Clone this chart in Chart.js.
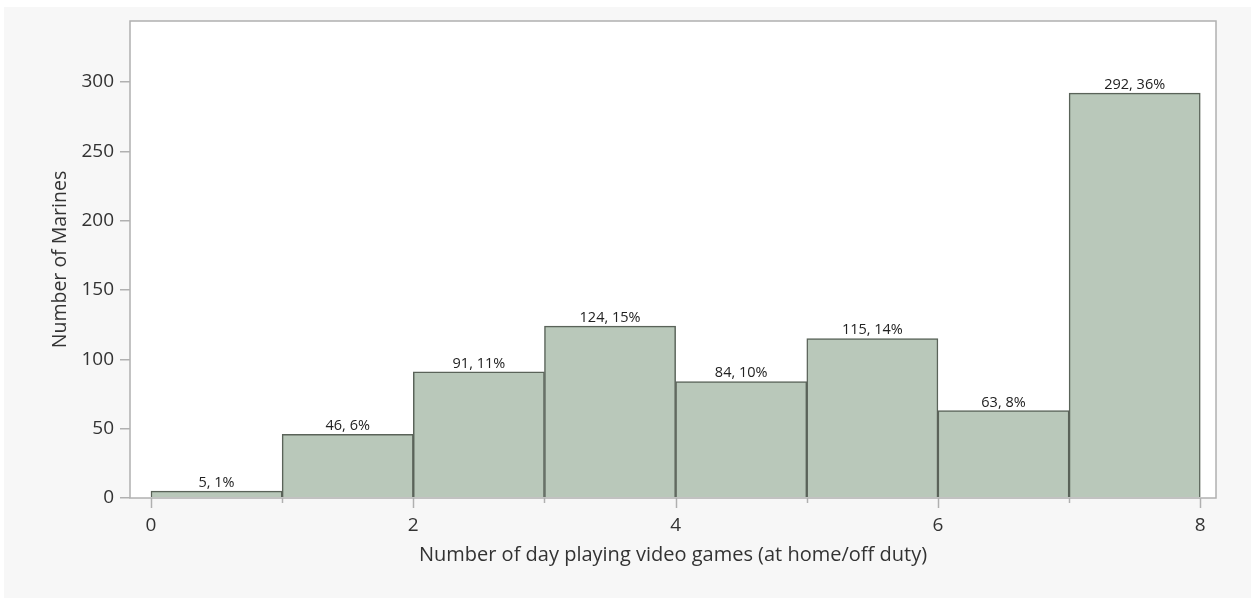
<!DOCTYPE html>
<html>
<head>
<meta charset="utf-8">
<script src="https://cdn.jsdelivr.net/npm/chart.js@4"></script>
<style>
  html,body{margin:0;padding:0;background:#fff;}
  .wrap{position:absolute;left:0;top:0;width:1251px;height:599px;}
</style>
</head>
<body>
<div class="wrap"><canvas id="hist" width="1251" height="599"></canvas></div>
<script>
// histogram bins (left edges) and counts
const binStarts=[0,1,2,3,4,5,6,7];
const counts=[5,46,91,124,84,115,63,292];
const percents=[1,6,11,15,10,14,8,36];
const yTicks=[0,50,100,150,200,250,300];
const xTicks=[0,1,2,3,4,5,6,7,8];

const FONT="'Open Sans', 'Noto Sans', sans-serif";
const TXT="#333";

// panel + white plot area + frame + x tick marks + bar labels
const decor={
    id:"decor",
    beforeDraw(chart){
        const c=chart.ctx, a=chart.chartArea;
        c.save();
        c.fillStyle="#fff";
        c.fillRect(0,0,chart.width,chart.height);
        c.fillStyle="#f7f7f7";
        c.fillRect(4,7,chart.width-4,chart.height-8);
        c.fillStyle="#fff";
        c.fillRect(a.left,a.top,a.right-a.left,a.bottom-a.top);
        c.restore();
    },
    afterDraw(chart){
        const c=chart.ctx, a=chart.chartArea, xs=chart.scales.x;
        c.save();
        c.strokeStyle="#b0b0b0";
        c.lineWidth=1.5;
        c.strokeRect(a.left,a.top,a.right-a.left,a.bottom-a.top);
        xTicks.forEach(v=>{
            const px=Math.round(xs.getPixelForValue(v))+0.5;
            const len=v%2===0?10:5;
            c.beginPath();
            c.moveTo(px,a.bottom);
            c.lineTo(px,a.bottom+len);
            c.stroke();
        });
        c.fillStyle="#222";
        c.font="14.5px "+FONT;
        c.textAlign="center";
        c.textBaseline="bottom";
        chart.getDatasetMeta(0).data.forEach((bar,i)=>{
            c.fillText(counts[i]+", "+percents[i]+"%",bar.x,bar.y-1);
        });
        c.restore();
    }
};

new Chart(document.getElementById("hist"),{
    type:"bar",
    data:{
        datasets:[{
            data:binStarts.map((b,i)=>({x:b+0.5,y:counts[i]})),
            backgroundColor:"#b9c8ba",
            borderColor:"#5a6359",
            borderWidth:1.5,
            barPercentage:1,
            categoryPercentage:1
        }]
    },
    options:{
        responsive:false,
        animation:false,
        layout:{padding:{left:0,top:21,right:35,bottom:0}},
        plugins:{legend:{display:false},tooltip:{enabled:false}},
        scales:{
            x:{
                type:"linear",
                min:-0.16,max:8.12,
                offset:false,
                afterFit(s){s.height=101;},
                afterBuildTicks(s){s.ticks=xTicks.map(v=>({value:v}));},
                ticks:{
                    includeBounds:false,
                    padding:16,
                    color:TXT,
                    font:{family:FONT,size:19},
                    maxRotation:0,
                    autoSkip:false,
                    callback:v=>v%2===0?v:""
                },
                grid:{display:true,drawOnChartArea:false,drawTicks:false,color:"rgba(0,0,0,0)"},
                border:{display:false},
                title:{display:true,text:"Number of day playing video games (at home/off duty)",
                    color:TXT,font:{family:FONT,size:20},padding:{top:0,bottom:31.5}}
            },
            y:{
                min:0,max:344,
                afterFit(s){s.width=130;},
                afterBuildTicks(s){s.ticks=yTicks.map(v=>({value:v}));},
                ticks:{padding:6,color:TXT,font:{family:FONT,size:19}},
                grid:{drawOnChartArea:false,drawTicks:true,tickLength:10,color:"#b0b0b0",lineWidth:1.5},
                border:{display:false},
                title:{display:true,text:"Number of Marines",color:TXT,
                    font:{family:FONT,size:19.5},padding:{top:49,bottom:0}}
            }
        }
    },
    plugins:[decor]
});
</script>
</body>
</html>
